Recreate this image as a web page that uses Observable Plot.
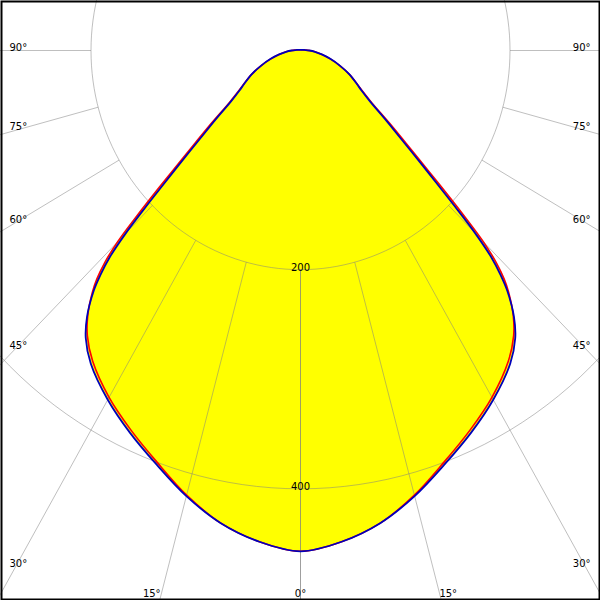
<!DOCTYPE html>
<html><head><meta charset="utf-8">
<script src="https://cdn.jsdelivr.net/npm/d3@7"></script>
<script src="https://cdn.jsdelivr.net/npm/@observablehq/plot@0.6"></script>
<style>html,body{margin:0;padding:0;background:#fff;} #chart{width:600px;height:600px;}</style>
</head><body><div id="chart"></div>
<script>
// Polar luminous intensity values (cd/klm), angle from nadir in degrees
const angles = [0,5,10,15,20,25,30,35,38,40,42,43,44,45,46,47,48,50,52,55,58,60,65,70,75,80,85,90,95,100,105,110,120,135,150,165,180];
const blueC90 = [457,450,438,421,402,385,368,349,333,317,295,280,262,236,205,178,157,125,104,81,68.5,63,51.5,39.6,29.4,20.7,13.9,8.4,4.8,3.1,2.3,1.8,1.2,0.9,0.75,0.67,0.64];
const redC0 = [457,450,438,420,400,382.5,365.5,346,330.5,316,297,285,269,247,217,189,165,131,108,83,69.5,63.5,51.5,39.6,29.4,20.7,13.9,8.4,4.8,3.1,2.3,1.8,1.2,0.9,0.75,0.67,0.64];
const ringValues = [200, 400];
const ringLabels = ["200", "400"];
const gridAngles = [0, 15, 30, 45, 60, 75, 90];
const angleLabels = ["0°", "15°", "30°", "45°", "60°", "75°", "90°"];

const W = 600, H = 600;
const kx = 1.0475, ky = 1.0958;      // px per unit
const cx = 300, cy = 50;             // pole position in px
const xDomain = [-cx / kx, (W - cx) / kx];
const yDomain = [-cy / ky, (H - cy) / ky];
const rad = d => d * Math.PI / 180;

function fullCurve(vals, name) {
  const pts = [];
  for (let i = angles.length - 1; i >= 0; i--) {
    const a = rad(angles[i]);
    pts.push({name, x: -vals[i] * Math.sin(a), y: vals[i] * Math.cos(a)});
  }
  for (let i = 1; i < angles.length; i++) {
    const a = rad(angles[i]);
    pts.push({name, x: vals[i] * Math.sin(a), y: vals[i] * Math.cos(a)});
  }
  return pts;
}
const red = fullCurve(redC0, "C0");
const blue = fullCurve(blueC90, "C90");

const rings = [];
ringValues.forEach(v => {
  for (let a = 0; a <= 360; a += 2) rings.push({v, x: v * Math.sin(rad(a)), y: v * Math.cos(rad(a))});
});
const spokes = [];
gridAngles.forEach(g => [-1, 1].forEach(s => spokes.push({a: s * g})));

const sideLabelInset = xDomain[1] - 15 / kx;
const sideIdx = gridAngles.map((g, i) => i).filter(i => gridAngles[i] >= 30);
const bottomIdx = gridAngles.map((g, i) => i).filter(i => gridAngles[i] < 30);
const sideY = i => sideLabelInset * Math.cos(rad(gridAngles[i])) / Math.sin(rad(gridAngles[i]));
const bottomX = i => yDomain[1] * Math.tan(rad(gridAngles[i]));

const gridStroke = "#808080";
const font = {fontFamily: "DejaVu Sans", fontSize: 10, fill: "#000"};

const plot = Plot.plot({
  width: W, height: H,
  margin: 0,
  style: {fontFamily: "DejaVu Sans", fontSize: "10px", background: "#fff"},
  x: {domain: xDomain, range: [0, W], axis: null},
  y: {domain: yDomain, range: [0, H], axis: null},
  marks: [
    Plot.line(red, {x: "x", y: "y", fill: "#ffff00", stroke: "none", curve: "catmull-rom"}),
    Plot.line(blue, {x: "x", y: "y", fill: "#ffff00", stroke: "none", curve: "catmull-rom"}),
    Plot.line(rings, {x: "x", y: "y", z: "v", stroke: gridStroke, strokeOpacity: 0.5, strokeWidth: 1, clip: true}),
    Plot.link(spokes, {
      x1: d => 200 * Math.sin(rad(d.a)), y1: d => 200 * Math.cos(rad(d.a)),
      x2: d => 1500 * Math.sin(rad(d.a)), y2: d => 1500 * Math.cos(rad(d.a)),
      stroke: gridStroke, strokeOpacity: 0.5, strokeWidth: 1, clip: true
    }),
    Plot.text(ringValues, {x: 0, y: d => d, text: (d, i) => ringLabels[i], lineAnchor: "bottom", dy: 1, ...font}),
    Plot.line(red, {x: "x", y: "y", stroke: "#ff0000", strokeWidth: 1.6, curve: "catmull-rom"}),
    Plot.line(blue, {x: "x", y: "y", stroke: "#0000bb", strokeWidth: 1.8, curve: "catmull-rom"}),
    Plot.text(sideIdx, {frameAnchor: "left", y: sideY, text: i => angleLabels[i], textAnchor: "start", lineAnchor: "bottom", dx: 9, ...font}),
    Plot.text(sideIdx, {frameAnchor: "right", y: sideY, text: i => angleLabels[i], textAnchor: "end", lineAnchor: "bottom", dx: -10, ...font}),
    Plot.text(bottomIdx.filter(i => gridAngles[i] === 0), {frameAnchor: "bottom", x: 0, text: i => angleLabels[i], textAnchor: "middle", lineAnchor: "bottom", dy: -4, ...font}),
    Plot.text(bottomIdx.filter(i => gridAngles[i] > 0), {frameAnchor: "bottom", x: i => -bottomX(i), text: i => angleLabels[i], textAnchor: "end", lineAnchor: "bottom", dx: 1, dy: -4, ...font}),
    Plot.text(bottomIdx.filter(i => gridAngles[i] > 0), {frameAnchor: "bottom", x: i => bottomX(i), text: i => angleLabels[i], textAnchor: "start", lineAnchor: "bottom", dx: -2, dy: -4, ...font}),
    Plot.frame({stroke: "#000", strokeWidth: 2, inset: 1})
  ]
});
document.getElementById("chart").appendChild(plot);
</script>
</body></html>
